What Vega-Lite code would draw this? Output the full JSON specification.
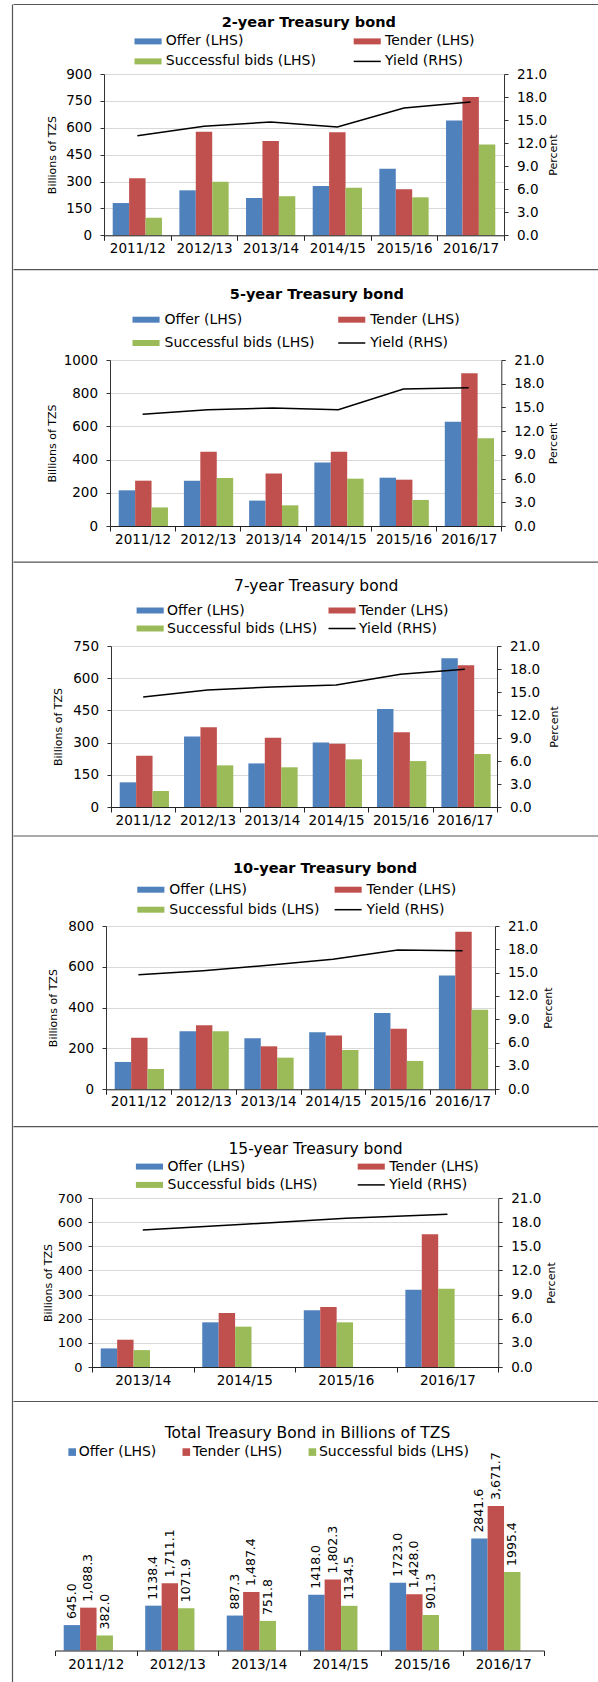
{
  "$schema": "https://vega.github.io/schema/vega-lite/v6.json",
  "background": "white",
  "padding": {"left": 12, "top": 4, "right": 0, "bottom": 0},
  "config": {
    "font": "DejaVu Sans",
    "view": {"stroke": null},
    "concat": {"spacing": 0},
    "title": {"color": "#000000", "font": "DejaVu Sans"},
    "axis": {
      "labelFont": "DejaVu Sans",
      "labelFontSize": 13.5,
      "labelColor": "#000000",
      "titleFont": "DejaVu Sans",
      "titleFontSize": 11,
      "titleFontWeight": "normal",
      "titleColor": "#000000",
      "domainColor": "#333333",
      "tickColor": "#333333",
      "gridColor": "#d9d9d9"
    },
    "axisY": {"tickSize": 4, "labelPadding": 8.5, "titleBaseline": "middle", "titleAngle": 270},
    "legend": {
      "labelFont": "DejaVu Sans",
      "labelFontSize": 14,
      "labelColor": "#000000",
      "labelLimit": 400,
      "padding": 0,
      "symbolStrokeWidth": 0
    }
  },
  "datasets": {
    "bond2": [
      {"year": "2011/12", "series": "Offer (LHS)", "value": 180},
      {"year": "2011/12", "series": "Tender (LHS)", "value": 318},
      {"year": "2011/12", "series": "Successful bids (LHS)", "value": 98},
      {"year": "2012/13", "series": "Offer (LHS)", "value": 251},
      {"year": "2012/13", "series": "Tender (LHS)", "value": 578},
      {"year": "2012/13", "series": "Successful bids (LHS)", "value": 299},
      {"year": "2013/14", "series": "Offer (LHS)", "value": 208},
      {"year": "2013/14", "series": "Tender (LHS)", "value": 526},
      {"year": "2013/14", "series": "Successful bids (LHS)", "value": 218},
      {"year": "2014/15", "series": "Offer (LHS)", "value": 275},
      {"year": "2014/15", "series": "Tender (LHS)", "value": 575},
      {"year": "2014/15", "series": "Successful bids (LHS)", "value": 266},
      {"year": "2015/16", "series": "Offer (LHS)", "value": 372},
      {"year": "2015/16", "series": "Tender (LHS)", "value": 257},
      {"year": "2015/16", "series": "Successful bids (LHS)", "value": 212},
      {"year": "2016/17", "series": "Offer (LHS)", "value": 641},
      {"year": "2016/17", "series": "Tender (LHS)", "value": 772},
      {"year": "2016/17", "series": "Successful bids (LHS)", "value": 506}
    ],
    "yield2": [
      {"year": "2011/12", "yield": 12.97},
      {"year": "2012/13", "yield": 14.19},
      {"year": "2013/14", "yield": 14.75},
      {"year": "2014/15", "yield": 14.1},
      {"year": "2015/16", "yield": 16.57},
      {"year": "2016/17", "yield": 17.35}
    ],
    "bond5": [
      {"year": "2011/12", "series": "Offer (LHS)", "value": 215},
      {"year": "2011/12", "series": "Tender (LHS)", "value": 273},
      {"year": "2011/12", "series": "Successful bids (LHS)", "value": 112},
      {"year": "2012/13", "series": "Offer (LHS)", "value": 273},
      {"year": "2012/13", "series": "Tender (LHS)", "value": 448},
      {"year": "2012/13", "series": "Successful bids (LHS)", "value": 289},
      {"year": "2013/14", "series": "Offer (LHS)", "value": 153},
      {"year": "2013/14", "series": "Tender (LHS)", "value": 317},
      {"year": "2013/14", "series": "Successful bids (LHS)", "value": 124.5},
      {"year": "2014/15", "series": "Offer (LHS)", "value": 382},
      {"year": "2014/15", "series": "Tender (LHS)", "value": 448},
      {"year": "2014/15", "series": "Successful bids (LHS)", "value": 285},
      {"year": "2015/16", "series": "Offer (LHS)", "value": 291},
      {"year": "2015/16", "series": "Tender (LHS)", "value": 279},
      {"year": "2015/16", "series": "Successful bids (LHS)", "value": 157},
      {"year": "2016/17", "series": "Offer (LHS)", "value": 628.5},
      {"year": "2016/17", "series": "Tender (LHS)", "value": 920},
      {"year": "2016/17", "series": "Successful bids (LHS)", "value": 528}
    ],
    "yield5": [
      {"year": "2011/12", "yield": 14.13},
      {"year": "2012/13", "yield": 14.72},
      {"year": "2013/14", "yield": 14.93},
      {"year": "2014/15", "yield": 14.72},
      {"year": "2015/16", "yield": 17.33},
      {"year": "2016/17", "yield": 17.5}
    ],
    "bond7": [
      {"year": "2011/12", "series": "Offer (LHS)", "value": 115},
      {"year": "2011/12", "series": "Tender (LHS)", "value": 239},
      {"year": "2011/12", "series": "Successful bids (LHS)", "value": 74.5},
      {"year": "2012/13", "series": "Offer (LHS)", "value": 328},
      {"year": "2012/13", "series": "Tender (LHS)", "value": 371},
      {"year": "2012/13", "series": "Successful bids (LHS)", "value": 194},
      {"year": "2013/14", "series": "Offer (LHS)", "value": 203},
      {"year": "2013/14", "series": "Tender (LHS)", "value": 323},
      {"year": "2013/14", "series": "Successful bids (LHS)", "value": 185},
      {"year": "2014/15", "series": "Offer (LHS)", "value": 300},
      {"year": "2014/15", "series": "Tender (LHS)", "value": 295},
      {"year": "2014/15", "series": "Successful bids (LHS)", "value": 222},
      {"year": "2015/16", "series": "Offer (LHS)", "value": 456.5},
      {"year": "2015/16", "series": "Tender (LHS)", "value": 348},
      {"year": "2015/16", "series": "Successful bids (LHS)", "value": 214},
      {"year": "2016/17", "series": "Offer (LHS)", "value": 692.5},
      {"year": "2016/17", "series": "Tender (LHS)", "value": 660},
      {"year": "2016/17", "series": "Successful bids (LHS)", "value": 247}
    ],
    "yield7": [
      {"year": "2011/12", "yield": 14.35},
      {"year": "2012/13", "yield": 15.26},
      {"year": "2013/14", "yield": 15.65},
      {"year": "2014/15", "yield": 15.91},
      {"year": "2015/16", "yield": 17.3},
      {"year": "2016/17", "yield": 17.96}
    ],
    "bond10": [
      {"year": "2011/12", "series": "Offer (LHS)", "value": 134},
      {"year": "2011/12", "series": "Tender (LHS)", "value": 253},
      {"year": "2011/12", "series": "Successful bids (LHS)", "value": 99.6},
      {"year": "2012/13", "series": "Offer (LHS)", "value": 284},
      {"year": "2012/13", "series": "Tender (LHS)", "value": 313.5},
      {"year": "2012/13", "series": "Successful bids (LHS)", "value": 284},
      {"year": "2013/14", "series": "Offer (LHS)", "value": 250},
      {"year": "2013/14", "series": "Tender (LHS)", "value": 210.6},
      {"year": "2013/14", "series": "Successful bids (LHS)", "value": 155},
      {"year": "2014/15", "series": "Offer (LHS)", "value": 279},
      {"year": "2014/15", "series": "Tender (LHS)", "value": 263},
      {"year": "2014/15", "series": "Successful bids (LHS)", "value": 192.6},
      {"year": "2015/16", "series": "Offer (LHS)", "value": 374},
      {"year": "2015/16", "series": "Tender (LHS)", "value": 297},
      {"year": "2015/16", "series": "Successful bids (LHS)", "value": 139},
      {"year": "2016/17", "series": "Offer (LHS)", "value": 558},
      {"year": "2016/17", "series": "Tender (LHS)", "value": 772},
      {"year": "2016/17", "series": "Successful bids (LHS)", "value": 390}
    ],
    "yield10": [
      {"year": "2011/12", "yield": 14.74},
      {"year": "2012/13", "yield": 15.26},
      {"year": "2013/14", "yield": 15.94},
      {"year": "2014/15", "yield": 16.71},
      {"year": "2015/16", "yield": 17.91},
      {"year": "2016/17", "yield": 17.83}
    ],
    "bond15": [
      {"year": "2013/14", "series": "Offer (LHS)", "value": 77},
      {"year": "2013/14", "series": "Tender (LHS)", "value": 113},
      {"year": "2013/14", "series": "Successful bids (LHS)", "value": 70},
      {"year": "2014/15", "series": "Offer (LHS)", "value": 185},
      {"year": "2014/15", "series": "Tender (LHS)", "value": 224},
      {"year": "2014/15", "series": "Successful bids (LHS)", "value": 167},
      {"year": "2015/16", "series": "Offer (LHS)", "value": 235},
      {"year": "2015/16", "series": "Tender (LHS)", "value": 248.5},
      {"year": "2015/16", "series": "Successful bids (LHS)", "value": 185},
      {"year": "2016/17", "series": "Offer (LHS)", "value": 320},
      {"year": "2016/17", "series": "Tender (LHS)", "value": 549.5},
      {"year": "2016/17", "series": "Successful bids (LHS)", "value": 324.5}
    ],
    "yield15": [
      {"year": "2013/14", "yield": 17.03},
      {"year": "2014/15", "yield": 17.73},
      {"year": "2015/16", "yield": 18.48},
      {"year": "2016/17", "yield": 18.97}
    ],
    "total": [
      {"year": "2011/12", "series": "Offer (LHS)", "value": 645.0, "label": "645.0"},
      {"year": "2011/12", "series": "Tender (LHS)", "value": 1088.3, "label": "1,088.3"},
      {"year": "2011/12", "series": "Successful bids (LHS)", "value": 382.0, "label": "382.0"},
      {"year": "2012/13", "series": "Offer (LHS)", "value": 1138.4, "label": "1138.4"},
      {"year": "2012/13", "series": "Tender (LHS)", "value": 1711.1, "label": "1,711.1"},
      {"year": "2012/13", "series": "Successful bids (LHS)", "value": 1071.9, "label": "1071.9"},
      {"year": "2013/14", "series": "Offer (LHS)", "value": 887.3, "label": "887.3"},
      {"year": "2013/14", "series": "Tender (LHS)", "value": 1487.4, "label": "1,487.4"},
      {"year": "2013/14", "series": "Successful bids (LHS)", "value": 751.8, "label": "751.8"},
      {"year": "2014/15", "series": "Offer (LHS)", "value": 1418.0, "label": "1418.0"},
      {"year": "2014/15", "series": "Tender (LHS)", "value": 1802.3, "label": "1,802.3"},
      {"year": "2014/15", "series": "Successful bids (LHS)", "value": 1134.5, "label": "1134.5"},
      {"year": "2015/16", "series": "Offer (LHS)", "value": 1723.0, "label": "1723.0"},
      {"year": "2015/16", "series": "Tender (LHS)", "value": 1428.0, "label": "1,428.0"},
      {"year": "2015/16", "series": "Successful bids (LHS)", "value": 901.3, "label": "901.3"},
      {"year": "2016/17", "series": "Offer (LHS)", "value": 2841.6, "label": "2841.6"},
      {"year": "2016/17", "series": "Tender (LHS)", "value": 3671.7, "label": "3,671.7"},
      {"year": "2016/17", "series": "Successful bids (LHS)", "value": 1995.4, "label": "1995.4"}
    ]
  },
  "resolve": {"scale": {"color": "independent"}, "legend": {"color": "independent"}},
  "hconcat": [
    {
      "width": 1, "height": 1700,
      "data": {"values": []},
      "mark": "point",
      "encoding": {"y": {"field": "u", "type": "quantitative", "scale": {"domain": [0, 1]}, "axis": {"orient": "left", "domain": true, "domainColor": "#555555", "domainWidth": 1.2, "ticks": false, "labels": false, "grid": false, "title": null}}}
    },
    {
      "spacing": 0,
      "align": "none",
      "resolve": {"scale": {"color": "independent"}, "legend": {"color": "independent"}},
      "vconcat": [
        {
          "width": 586, "height": 9.65,
          "data": {"values": []}, "mark": "point",
          "encoding": {"x": {"field": "u", "type": "quantitative", "scale": {"domain": [0, 1]}, "axis": {"orient": "top", "offset": 0, "domain": true, "domainColor": "#555555", "domainWidth": 1.2, "ticks": false, "labels": false, "grid": false, "title": null}}}
        },
        {
          "spacing": 0, "align": "none",
          "resolve": {"scale": {"color": "independent"}, "legend": {"color": "independent"}},
          "hconcat": [
            {"width": 32.5, "height": 1, "data": {"values": []}, "mark": "point"},
            {
              "width": 400, "height": 161.3,
              "title": {"text": "2-year Treasury bond", "fontSize": 14.5, "fontWeight": "bold", "anchor": "middle", "frame": "group", "offset": 4.35, "dx": 4.8},
              "layer": [
                {
                  "data": {"name": "bond2"},
                  "mark": {"type": "bar"},
                  "encoding": {
                    "x": {"field": "year", "type": "nominal", "sort": null, "scale": {"paddingInner": 0, "paddingOuter": 0}, "axis": {"title": null, "labelAngle": 0, "tickBand": "extent", "tickSize": 5, "labelPadding": 1, "zindex": 1, "grid": false, "domainColor": "#222222", "tickColor": "#222222"}},
                    "xOffset": {"field": "series", "type": "nominal", "sort": null, "scale": {"domain": ["Offer (LHS)", "Tender (LHS)", "Successful bids (LHS)"], "paddingInner": 0, "paddingOuter": 0.53}},
                    "y": {"field": "value", "type": "quantitative", "scale": {"domain": [0, 900]}, "axis": {"values": [0, 150, 300, 450, 600, 750, 900], "format": "d", "grid": true, "title": "Billions of TZS", "titleX": -51.5}},
                    "color": {
                      "field": "series", "type": "nominal",
                      "scale": {"domain": ["Offer (LHS)", "Tender (LHS)", "Successful bids (LHS)", "Yield (RHS)"], "range": ["#4F81BD", "#C0504D", "#9BBB59", "#000000"]},
                      "legend": {
                        "title": null, "orient": "none", "legendX": 45.1, "legendY": -39.6, "direction": "horizontal", "columns": 2,
                        "columnPadding": 34.2, "rowPadding": 6, "labelOffset": 2.7, "symbolSize": 42.25,
                        "symbolType": "M-6.646,-0.92H1.69V0.92H-6.646Z",
                        "encoding": {"symbols": {
                          "shape": {"value": {"expr": "datum.value === 'Yield (RHS)' ? 'M-6.646,0H1.69' : 'M-6.646,-0.92H1.69V0.92H-6.646Z'"}},
                          "fill": {"value": {"expr": "datum.value === 'Offer (LHS)' ? '#4F81BD' : datum.value === 'Tender (LHS)' ? '#C0504D' : datum.value === 'Successful bids (LHS)' ? '#9BBB59' : 'transparent'"}},
                          "stroke": {"value": {"expr": "datum.value === 'Yield (RHS)' ? '#000000' : 'transparent'"}},
                          "strokeWidth": {"value": 1.5}
                        }}
                      }
                    }
                  }
                },
                {
                  "data": {"name": "yield2"},
                  "mark": {"type": "line", "color": "#000000", "strokeWidth": 1.5},
                  "encoding": {
                    "x": {"field": "year", "type": "nominal", "sort": null},
                    "y": {"field": "yield", "type": "quantitative", "scale": {"domain": [0, 21]}, "axis": {"orient": "right", "values": [0, 3, 6, 9, 12, 15, 18, 21], "format": ".1f", "grid": false, "title": "Percent", "titleX": 49.6, "titleAngle": 270}}
                  }
                }
              ],
              "resolve": {"scale": {"y": "independent"}}
            }
          ]
        },
        {
          "width": 586, "height": 31.7,
          "data": {"values": []}, "mark": "point",
          "encoding": {"x": {"field": "u", "type": "quantitative", "scale": {"domain": [0, 1]}, "axis": {"orient": "top", "offset": -14.05, "domain": true, "domainColor": "#555555", "domainWidth": 1.2, "ticks": false, "labels": false, "grid": false, "title": null}}}
        },
        {
          "spacing": 0, "align": "none",
          "resolve": {"scale": {"color": "independent"}, "legend": {"color": "independent"}},
          "hconcat": [
            {"width": 32.5, "height": 1, "data": {"values": []}, "mark": "point"},
            {
              "width": 391.3, "height": 166,
              "title": {"text": "5-year Treasury bond", "fontSize": 14.5, "fontWeight": "bold", "anchor": "middle", "frame": "group", "offset": 9.85, "dx": 11.2},
              "layer": [
                {
                  "data": {"name": "bond5"},
                  "mark": {"type": "bar"},
                  "encoding": {
                    "x": {"field": "year", "type": "nominal", "sort": null, "scale": {"paddingInner": 0, "paddingOuter": 0}, "axis": {"title": null, "labelAngle": 0, "tickBand": "extent", "tickSize": 5, "labelPadding": 1, "zindex": 1, "grid": false, "domainColor": "#222222", "tickColor": "#222222"}},
                    "xOffset": {"field": "series", "type": "nominal", "sort": null, "scale": {"domain": ["Offer (LHS)", "Tender (LHS)", "Successful bids (LHS)"], "paddingInner": 0, "paddingOuter": 0.53}},
                    "y": {"field": "value", "type": "quantitative", "scale": {"domain": [0, 1000]}, "axis": {"values": [0, 200, 400, 600, 800, 1000], "format": "d", "grid": true, "title": "Billions of TZS", "titleX": -58}},
                    "color": {
                      "field": "series", "type": "nominal",
                      "scale": {"domain": ["Offer (LHS)", "Tender (LHS)", "Successful bids (LHS)", "Yield (RHS)"], "range": ["#4F81BD", "#C0504D", "#9BBB59", "#000000"]},
                      "legend": {
                        "title": null, "orient": "none", "legendX": 37.1, "legendY": -47.3, "direction": "horizontal", "columns": 2,
                        "columnPadding": 19.7, "rowPadding": 9.3, "labelOffset": 3.4, "symbolSize": 42.25,
                        "symbolType": "M-6.646,-0.92H1.69V0.92H-6.646Z",
                        "encoding": {"symbols": {
                          "shape": {"value": {"expr": "datum.value === 'Yield (RHS)' ? 'M-6.646,0H1.69' : 'M-6.646,-0.92H1.69V0.92H-6.646Z'"}},
                          "fill": {"value": {"expr": "datum.value === 'Offer (LHS)' ? '#4F81BD' : datum.value === 'Tender (LHS)' ? '#C0504D' : datum.value === 'Successful bids (LHS)' ? '#9BBB59' : 'transparent'"}},
                          "stroke": {"value": {"expr": "datum.value === 'Yield (RHS)' ? '#000000' : 'transparent'"}},
                          "strokeWidth": {"value": 1.5}
                        }}
                      }
                    }
                  }
                },
                {
                  "data": {"name": "yield5"},
                  "mark": {"type": "line", "color": "#000000", "strokeWidth": 1.5},
                  "encoding": {
                    "x": {"field": "year", "type": "nominal", "sort": null},
                    "y": {"field": "yield", "type": "quantitative", "scale": {"domain": [0, 21]}, "axis": {"orient": "right", "values": [0, 3, 6, 9, 12, 15, 18, 21], "format": ".1f", "grid": false, "title": "Percent", "titleX": 52.2, "titleAngle": 270}}
                  }
                }
              ],
              "resolve": {"scale": {"y": "independent"}}
            }
          ]
        },
        {
          "width": 586, "height": 32.35,
          "data": {"values": []}, "mark": "point",
          "encoding": {"x": {"field": "u", "type": "quantitative", "scale": {"domain": [0, 1]}, "axis": {"orient": "top", "offset": -15.7, "domain": true, "domainColor": "#555555", "domainWidth": 1.2, "ticks": false, "labels": false, "grid": false, "title": null}}}
        },
        {
          "spacing": 0, "align": "none",
          "resolve": {"scale": {"color": "independent"}, "legend": {"color": "independent"}},
          "hconcat": [
            {"width": 38.2, "height": 1, "data": {"values": []}, "mark": "point"},
            {
              "width": 386, "height": 161,
              "title": {"text": "7-year Treasury bond", "fontSize": 15.5, "fontWeight": "normal", "anchor": "middle", "frame": "group", "offset": 8.65, "dx": 12.2},
              "layer": [
                {
                  "data": {"name": "bond7"},
                  "mark": {"type": "bar"},
                  "encoding": {
                    "x": {"field": "year", "type": "nominal", "sort": null, "scale": {"paddingInner": 0, "paddingOuter": 0}, "axis": {"title": null, "labelAngle": 0, "tickBand": "extent", "tickSize": 5, "labelPadding": 1, "zindex": 1, "grid": false, "domainColor": "#222222", "tickColor": "#222222"}},
                    "xOffset": {"field": "series", "type": "nominal", "sort": null, "scale": {"domain": ["Offer (LHS)", "Tender (LHS)", "Successful bids (LHS)"], "paddingInner": 0, "paddingOuter": 0.53}},
                    "y": {"field": "value", "type": "quantitative", "scale": {"domain": [0, 750]}, "axis": {"values": [0, 150, 300, 450, 600, 750], "format": "d", "grid": true, "title": "Billions of TZS", "titleX": -52.6}},
                    "color": {
                      "field": "series", "type": "nominal",
                      "scale": {"domain": ["Offer (LHS)", "Tender (LHS)", "Successful bids (LHS)", "Yield (RHS)"], "range": ["#4F81BD", "#C0504D", "#9BBB59", "#000000"]},
                      "legend": {
                        "title": null, "orient": "none", "legendX": 40.2, "legendY": -42.5, "direction": "horizontal", "columns": 2,
                        "columnPadding": 7.9, "rowPadding": 4, "labelOffset": 1.9, "symbolSize": 42.25,
                        "symbolType": "M-6.646,-0.92H1.69V0.92H-6.646Z",
                        "encoding": {"symbols": {
                          "shape": {"value": {"expr": "datum.value === 'Yield (RHS)' ? 'M-6.646,0H1.69' : 'M-6.646,-0.92H1.69V0.92H-6.646Z'"}},
                          "fill": {"value": {"expr": "datum.value === 'Offer (LHS)' ? '#4F81BD' : datum.value === 'Tender (LHS)' ? '#C0504D' : datum.value === 'Successful bids (LHS)' ? '#9BBB59' : 'transparent'"}},
                          "stroke": {"value": {"expr": "datum.value === 'Yield (RHS)' ? '#000000' : 'transparent'"}},
                          "strokeWidth": {"value": 1.5}
                        }}
                      }
                    }
                  }
                },
                {
                  "data": {"name": "yield7"},
                  "mark": {"type": "line", "color": "#000000", "strokeWidth": 1.5},
                  "encoding": {
                    "x": {"field": "year", "type": "nominal", "sort": null},
                    "y": {"field": "yield", "type": "quantitative", "scale": {"domain": [0, 21]}, "axis": {"orient": "right", "values": [0, 3, 6, 9, 12, 15, 18, 21], "format": ".1f", "grid": false, "title": "Percent", "titleX": 57.2, "titleAngle": 270}}
                  }
                }
              ],
              "resolve": {"scale": {"y": "independent"}}
            }
          ]
        },
        {
          "width": 586, "height": 32.65,
          "data": {"values": []}, "mark": "point",
          "encoding": {"x": {"field": "u", "type": "quantitative", "scale": {"domain": [0, 1]}, "axis": {"orient": "top", "offset": -8.5, "domain": true, "domainColor": "#555555", "domainWidth": 1.2, "ticks": false, "labels": false, "grid": false, "title": null}}}
        },
        {
          "spacing": 0, "align": "none",
          "resolve": {"scale": {"color": "independent"}, "legend": {"color": "independent"}},
          "hconcat": [
            {"width": 33.3, "height": 1, "data": {"values": []}, "mark": "point"},
            {
              "width": 389, "height": 163.3,
              "title": {"text": "10-year Treasury bond", "fontSize": 14.5, "fontWeight": "bold", "anchor": "middle", "frame": "group", "offset": 6.25, "dx": 24.6},
              "layer": [
                {
                  "data": {"name": "bond10"},
                  "mark": {"type": "bar"},
                  "encoding": {
                    "x": {"field": "year", "type": "nominal", "sort": null, "scale": {"paddingInner": 0, "paddingOuter": 0}, "axis": {"title": null, "labelAngle": 0, "tickBand": "extent", "tickSize": 5, "labelPadding": 0.5, "zindex": 1, "grid": false, "domainColor": "#222222", "tickColor": "#222222"}},
                    "xOffset": {"field": "series", "type": "nominal", "sort": null, "scale": {"domain": ["Offer (LHS)", "Tender (LHS)", "Successful bids (LHS)"], "paddingInner": 0, "paddingOuter": 0.53}},
                    "y": {"field": "value", "type": "quantitative", "scale": {"domain": [0, 800]}, "axis": {"values": [0, 200, 400, 600, 800], "format": "d", "grid": true, "title": "Billions of TZS", "titleX": -52.6}},
                    "color": {
                      "field": "series", "type": "nominal",
                      "scale": {"domain": ["Offer (LHS)", "Tender (LHS)", "Successful bids (LHS)", "Yield (RHS)"], "range": ["#4F81BD", "#C0504D", "#9BBB59", "#000000"]},
                      "legend": {
                        "title": null, "orient": "none", "legendX": 45.9, "legendY": -43.3, "direction": "horizontal", "columns": 2,
                        "columnPadding": 11.3, "rowPadding": 6, "labelOffset": 3.4, "symbolSize": 42.25,
                        "symbolType": "M-6.646,-0.92H1.69V0.92H-6.646Z",
                        "encoding": {"symbols": {
                          "shape": {"value": {"expr": "datum.value === 'Yield (RHS)' ? 'M-6.646,0H1.69' : 'M-6.646,-0.92H1.69V0.92H-6.646Z'"}},
                          "fill": {"value": {"expr": "datum.value === 'Offer (LHS)' ? '#4F81BD' : datum.value === 'Tender (LHS)' ? '#C0504D' : datum.value === 'Successful bids (LHS)' ? '#9BBB59' : 'transparent'"}},
                          "stroke": {"value": {"expr": "datum.value === 'Yield (RHS)' ? '#000000' : 'transparent'"}},
                          "strokeWidth": {"value": 1.5}
                        }}
                      }
                    }
                  }
                },
                {
                  "data": {"name": "yield10"},
                  "mark": {"type": "line", "color": "#000000", "strokeWidth": 1.5},
                  "encoding": {
                    "x": {"field": "year", "type": "nominal", "sort": null},
                    "y": {"field": "yield", "type": "quantitative", "scale": {"domain": [0, 21]}, "axis": {"orient": "right", "values": [0, 3, 6, 9, 12, 15, 18, 21], "format": ".1f", "grid": false, "title": "Percent", "titleX": 53.4, "titleAngle": 270}}
                  }
                }
              ],
              "resolve": {"scale": {"y": "independent"}}
            }
          ]
        },
        {
          "width": 586, "height": 31.05,
          "data": {"values": []}, "mark": "point",
          "encoding": {"x": {"field": "u", "type": "quantitative", "scale": {"domain": [0, 1]}, "axis": {"orient": "top", "offset": -17.2, "domain": true, "domainColor": "#555555", "domainWidth": 1.2, "ticks": false, "labels": false, "grid": false, "title": null}}}
        },
        {
          "spacing": 0, "align": "none",
          "resolve": {"scale": {"color": "independent"}, "legend": {"color": "independent"}},
          "hconcat": [
            {"width": 28.7, "height": 1, "data": {"values": []}, "mark": "point"},
            {
              "width": 406.2, "height": 169,
              "title": {"text": "15-year Treasury bond", "fontSize": 15.5, "fontWeight": "normal", "anchor": "middle", "frame": "group", "offset": 2.15, "dx": 20.4},
              "layer": [
                {
                  "data": {"name": "bond15"},
                  "mark": {"type": "bar"},
                  "encoding": {
                    "x": {"field": "year", "type": "nominal", "sort": null, "scale": {"paddingInner": 0, "paddingOuter": 0}, "axis": {"title": null, "labelAngle": 0, "tickBand": "extent", "tickSize": 5, "labelPadding": 1.5, "zindex": 1, "grid": false, "domainColor": "#222222", "tickColor": "#222222"}},
                    "xOffset": {"field": "series", "type": "nominal", "sort": null, "scale": {"domain": ["Offer (LHS)", "Tender (LHS)", "Successful bids (LHS)"], "paddingInner": 0, "paddingOuter": 0.55}},
                    "y": {"field": "value", "type": "quantitative", "scale": {"domain": [0, 700]}, "axis": {"values": [0, 100, 200, 300, 400, 500, 600, 700], "format": "d", "grid": true, "labelPadding": 6, "labelFontSize": 13, "title": "Billions of TZS", "titleX": -43.8}},
                    "color": {
                      "field": "series", "type": "nominal",
                      "scale": {"domain": ["Offer (LHS)", "Tender (LHS)", "Successful bids (LHS)", "Yield (RHS)"], "range": ["#4F81BD", "#C0504D", "#9BBB59", "#000000"]},
                      "legend": {
                        "title": null, "orient": "none", "legendX": 58.5, "legendY": -38.4, "direction": "horizontal", "columns": 2,
                        "columnPadding": 35.8, "rowPadding": 4.3, "labelOffset": 3, "symbolSize": 42.25,
                        "symbolType": "M-6.646,-0.92H1.69V0.92H-6.646Z",
                        "encoding": {"symbols": {
                          "shape": {"value": {"expr": "datum.value === 'Yield (RHS)' ? 'M-6.646,0H1.69' : 'M-6.646,-0.92H1.69V0.92H-6.646Z'"}},
                          "fill": {"value": {"expr": "datum.value === 'Offer (LHS)' ? '#4F81BD' : datum.value === 'Tender (LHS)' ? '#C0504D' : datum.value === 'Successful bids (LHS)' ? '#9BBB59' : 'transparent'"}},
                          "stroke": {"value": {"expr": "datum.value === 'Yield (RHS)' ? '#000000' : 'transparent'"}},
                          "strokeWidth": {"value": 1.5}
                        }}
                      }
                    }
                  }
                },
                {
                  "data": {"name": "yield15"},
                  "mark": {"type": "line", "color": "#000000", "strokeWidth": 1.5},
                  "encoding": {
                    "x": {"field": "year", "type": "nominal", "sort": null},
                    "y": {"field": "yield", "type": "quantitative", "scale": {"domain": [0, 21]}, "axis": {"orient": "right", "values": [0, 3, 6, 9, 12, 15, 18, 21], "format": ".1f", "grid": false, "title": "Percent", "titleX": 53.3, "titleAngle": 270}}
                  }
                }
              ],
              "resolve": {"scale": {"y": "independent"}}
            }
          ]
        },
        {
          "width": 586, "height": 37.15,
          "data": {"values": []}, "mark": "point",
          "encoding": {"x": {"field": "u", "type": "quantitative", "scale": {"domain": [0, 1]}, "axis": {"orient": "top", "offset": -14, "domain": true, "domainColor": "#555555", "domainWidth": 1.2, "ticks": false, "labels": false, "grid": false, "title": null}}}
        },
        {
          "spacing": 0, "align": "none",
          "resolve": {"scale": {"color": "independent"}, "legend": {"color": "independent"}},
          "hconcat": [
            {"width": 40.5, "height": 1, "data": {"values": []}, "mark": "point"},
            {
              "width": 489, "height": 157.5,
              "title": {"text": "Total Treasury Bond in Billions of TZS", "fontSize": 15.5, "fontWeight": "normal", "anchor": "middle", "frame": "group", "offset": 3.95, "dx": 8},
              "data": {"name": "total"},
              "encoding": {
                "x": {"field": "year", "type": "nominal", "sort": null, "scale": {"paddingInner": 0, "paddingOuter": 0}, "axis": {"title": null, "labelAngle": 0, "tickBand": "extent", "tickSize": 5, "labelPadding": 1.5, "zindex": 1, "grid": false, "domainColor": "#222222", "tickColor": "#222222"}},
                "xOffset": {"field": "series", "type": "nominal", "sort": null, "scale": {"domain": ["Offer (LHS)", "Tender (LHS)", "Successful bids (LHS)"], "paddingInner": 0, "paddingOuter": 0.44}},
                "y": {"field": "value", "type": "quantitative", "scale": {"domain": [0, 4000]}, "axis": null}
              },
              "layer": [
                {
                  "mark": {"type": "bar"},
                  "encoding": {
                    "color": {
                      "field": "series", "type": "nominal",
                      "scale": {"domain": ["Offer (LHS)", "Tender (LHS)", "Successful bids (LHS)"], "range": ["#4F81BD", "#C0504D", "#9BBB59"]},
                      "legend": {
                        "title": null, "orient": "none", "legendX": 10.2, "legendY": -47.9, "direction": "horizontal", "columns": 3,
                        "columnPadding": 22.1, "labelOffset": -0.5, "symbolSize": 58, "symbolType": "square"
                      }
                    }
                  }
                },
                {
                  "mark": {"type": "text", "angle": 270, "align": "left", "baseline": "middle", "dx": 6, "fontSize": 12.5, "color": "#000000"},
                  "encoding": {"text": {"field": "label"}}
                }
              ]
            }
          ]
        }
      ]
    }
  ]
}
